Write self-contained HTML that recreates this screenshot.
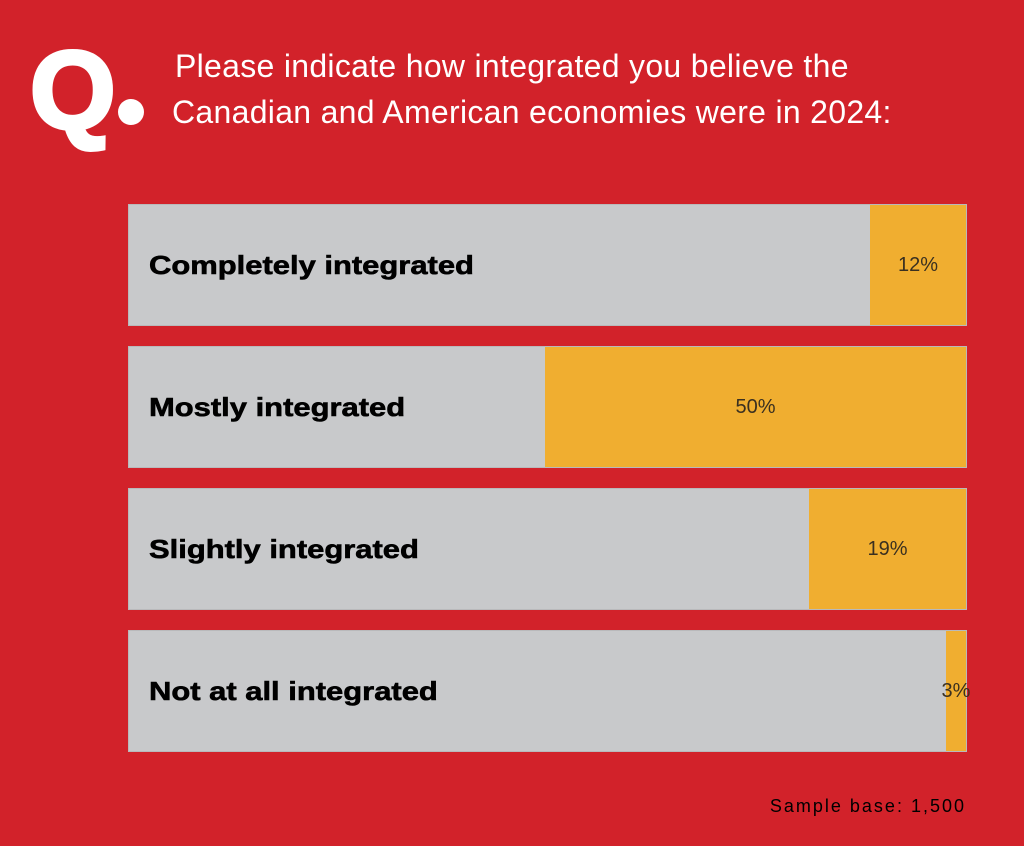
<!DOCTYPE html>
<html><head><style>
body{margin:0;width:1024px;height:846px;background:#d2222a;position:relative;overflow:hidden;font-family:"Liberation Sans",sans-serif}
.q{position:absolute;left:30px;top:36px;font-size:110px;font-weight:bold;color:#fff;line-height:1;letter-spacing:-2px;-webkit-text-stroke:4px #fff}
.dot{position:absolute;left:118px;top:99px;width:26px;height:26px;border-radius:50%;background:#fff}
.t{position:absolute;left:172px;color:#fff;font-size:32px;white-space:nowrap;letter-spacing:0.3px}
.bar{position:absolute;left:129px;width:837px;height:120px;background:#c8c9cb;box-shadow:0 0 0 1px #b9b9bb}
.o{position:absolute;top:0;bottom:0;right:0;background:#f0ae30;color:#3a3020;font-size:20px;display:flex;align-items:center;justify-content:center}
.l{position:absolute;left:20px;top:0;bottom:0;display:flex;align-items:center;font-weight:bold;font-size:26px;color:#000;transform:scaleX(1.19);transform-origin:left center;-webkit-text-stroke:0.6px #000}
.s{position:absolute;right:58px;top:796px;font-size:18px;color:#000;letter-spacing:2px}
</style></head><body>
<div class="q">Q</div><div class="dot"></div>
<div class="t" style="top:48px;left:175px">Please indicate how integrated you believe the</div>
<div class="t" style="top:94px">Canadian and American economies were in 2024:</div>
<div class="bar" style="top:205px"><div class="l">Completely integrated</div><div class="o" style="width:96px">12%</div></div>
<div class="bar" style="top:347px"><div class="l">Mostly integrated</div><div class="o" style="width:421px">50%</div></div>
<div class="bar" style="top:489px"><div class="l">Slightly integrated</div><div class="o" style="width:157px">19%</div></div>
<div class="bar" style="top:631px"><div class="l">Not at all integrated</div><div class="o" style="width:20px;overflow:visible">3%</div></div>
<div class="s">Sample base: 1,500</div>
</body></html>
